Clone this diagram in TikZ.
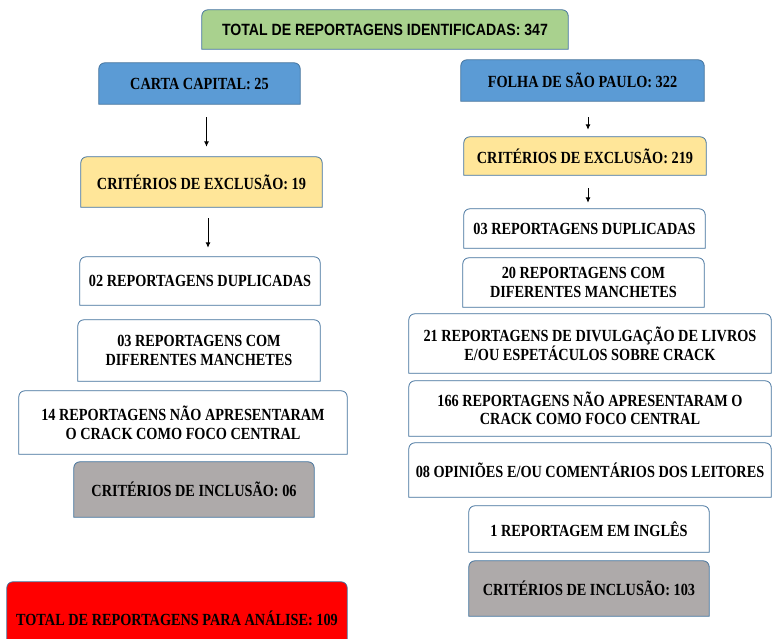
\documentclass[tikz,border=0pt]{standalone}
\usepackage{fontspec}
\setmainfont{Liberation Serif}[FakeStretch=0.84]
\newfontfamily\titlefont{Liberation Sans}[FakeStretch=0.865]
\usepackage{tikz}
\usetikzlibrary{arrows,arrows.meta,positioning,backgrounds}
\definecolor{borda}{RGB}{65,113,156}
\definecolor{verde}{RGB}{169,209,142}
\definecolor{azul}{RGB}{91,155,213}
\definecolor{amarelo}{RGB}{255,230,153}
\definecolor{cinza}{RGB}{174,170,170}
\definecolor{vermelho}{RGB}{255,0,0}
\tikzset{
	caixa/.style={inner sep=0pt, align=center, font=\fontsize{17}{19}\selectfont\bfseries},
	seta/.style={-{Latex[length=5.5pt,width=5pt]}, line width=0.9pt},
}

\begin{document}
\begin{tikzpicture}[x=1pt,y=-1pt]
	\useasboundingbox (0,0) rectangle (772,638);
	\clip (0,0) rectangle (772,638);

	\node[caixa, minimum width=366pt, minimum height=39pt, font=\fontsize{16.3}{18}\titlefont\bfseries] (total) at (385,29.5) {TOTAL DE REPORTAGENS IDENTIFICADAS: 347};

	% Carta Capital
	\node[caixa, minimum width=201pt, minimum height=41pt] (carta) at (199.5,83.5) {CARTA CAPITAL: 25};
	\node[caixa, minimum width=241pt, minimum height=50pt] (critA) at (201.5,182) {CRITÉRIOS DE EXCLUSÃO: 19};
	\node[caixa, minimum width=240pt, minimum height=48pt] (dupA) at (200,281) {02 REPORTAGENS DUPLICADAS};
	\node[caixa, minimum width=242pt, minimum height=61pt] (comA) at (199,350.5) {03 REPORTAGENS COM\\DIFERENTES MANCHETES};
	\node[caixa, minimum width=328pt, minimum height=63pt] (focoA) at (183,422.5) {14 REPORTAGENS NÃO APRESENTARAM\\O CRACK COMO FOCO CENTRAL};
	\node[caixa, minimum width=240pt, minimum height=55pt] (inclA) at (194,489.5) {CRITÉRIOS DE INCLUSÃO: 06};
	\node[caixa, minimum width=340pt, minimum height=73pt] (analise) at (177,618.5) {TOTAL DE REPORTAGENS PARA ANÁLISE: 109};

	% Folha de Sao Paulo
	\node[caixa, minimum width=243pt, minimum height=41pt] (folha) at (582.5,80.5) {FOLHA DE SÃO PAULO: 322};
	\node[caixa, minimum width=242pt, minimum height=38pt] (critB) at (585,156) {CRITÉRIOS DE EXCLUSÃO: 219};
	\node[caixa, minimum width=241pt, minimum height=39pt] (dupB) at (584.5,228.5) {03 REPORTAGENS DUPLICADAS};
	\node[caixa, minimum width=241pt, minimum height=49pt] (comB) at (583.5,282.5) {20 REPORTAGENS COM\\DIFERENTES MANCHETES};
	\node[caixa, minimum width=362pt, minimum height=59pt, font=\fontsize{17}{18}\selectfont\bfseries] (livB) at (590,343.5) {21 REPORTAGENS DE DIVULGAÇÃO DE LIVROS\\E/OU ESPETÁCULOS SOBRE CRACK};
	\node[caixa, minimum width=362pt, minimum height=55pt, font=\fontsize{17}{18}\selectfont\bfseries] (focoB) at (590,408.5) {166 REPORTAGENS NÃO APRESENTARAM O\\CRACK COMO FOCO CENTRAL};
	\node[caixa, minimum width=362pt, minimum height=54pt] (opinB) at (590,470) {08 OPINIÕES E/OU COMENTÁRIOS DOS LEITORES};
	\node[caixa, minimum width=240pt, minimum height=46pt] (inglB) at (589,529) {1 REPORTAGEM EM INGLÊS};
	\node[caixa, minimum width=240pt, minimum height=55pt] (inclB) at (589,588.5) {CRITÉRIOS DE INCLUSÃO: 103};

	\begin{scope}[on background layer]
		\foreach \Caixa/\Cor in {total/verde,carta/azul,critA/amarelo,dupA/white,comA/white,focoA/white,inclA/cinza,analise/vermelho,folha/azul,critB/amarelo,dupB/white,comB/white,livB/white,focoB/white,opinB/white,inglB/white,inclB/cinza}
			\draw[borda, line width=0.8pt, fill=\Cor] (\Caixa.south west) -- ([yshift=-6pt]\Caixa.north west)
			arc[start angle=180, end angle=90, radius=6pt] -- ([xshift=-6pt]\Caixa.north east)
			arc[start angle=90, end angle=0, radius=6pt] -- (\Caixa.south east) -- cycle;
	\end{scope}

	\draw[seta] ([xshift=7pt,yshift=-13pt]carta.south) -- ([xshift=5pt,yshift=10pt]critA.north);
	\draw[seta] ([xshift=6.5pt,yshift=-11pt]critA.south) -- ([xshift=8pt,yshift=9pt]dupA.north);
	\draw[seta] ([xshift=5.5pt,yshift=-16pt]folha.south) -- ([xshift=3pt,yshift=7pt]critB.north);
	\draw[seta] ([xshift=3pt,yshift=-13pt]critB.south) -- ([xshift=3.5pt,yshift=6pt]dupB.north);
\end{tikzpicture}
\end{document}
